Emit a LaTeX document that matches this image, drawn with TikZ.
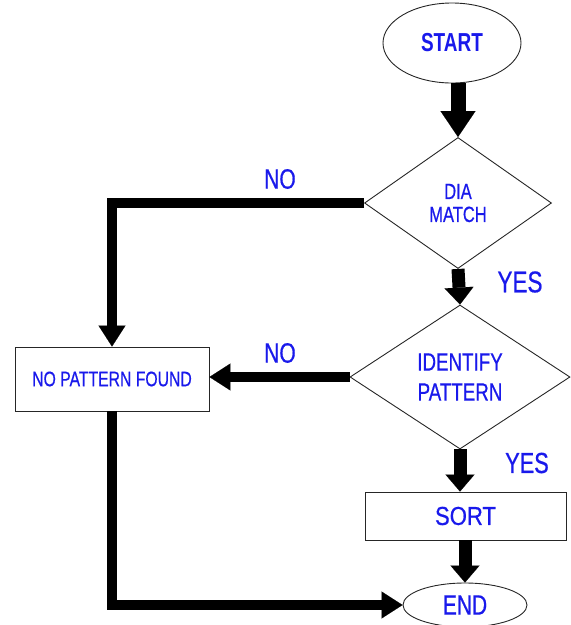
\documentclass[tikz,border=0pt]{standalone}
\usepackage{fontspec}
\newfontfamily\cf[FakeStretch=0.75,FakeBold=0.6]{Liberation Sans}
\newfontfamily\cfw[FakeStretch=0.85,FakeBold=0.6]{Liberation Sans}
\newfontfamily\cfb[FakeStretch=0.73]{Liberation Sans Bold}
\usetikzlibrary{shapes.geometric,arrows.meta}
\definecolor{txt}{RGB}{25,25,235}
\tikzset{
  shapeline/.style={draw=black!85, line width=0.9pt, inner sep=0pt, text=txt},
  bigarrow/.style={line width=15pt, -{Triangle[width=35pt,length=26pt,line width=0.1pt]}},
  midarrow/.style={line width=13pt, -{Triangle[width=29pt,length=17pt,line width=0.1pt]}},
  connarrow/.style={line width=10pt, line join=miter, -{Triangle[width=27pt,length=21pt,line width=0.1pt]}},
  lbl/.style={text=txt, inner sep=0pt}
}
\begin{document}
\begin{tikzpicture}[x=1pt,y=-1pt]
\useasboundingbox (0,0) rectangle (571,625);
\node[shapeline, ellipse, minimum width=138pt, minimum height=80pt, font=\fontsize{26}{30}\selectfont\cfb] (start) at (452,43) {START};
\node[shapeline, diamond, minimum width=187pt, minimum height=131pt, align=center, font=\fontsize{22}{23}\selectfont\cf] (d1) at (458,203) {DIA\\MATCH};
\node[shapeline, diamond, minimum width=220pt, minimum height=144pt, align=center, font=\fontsize{25}{30}\selectfont\cf] (d2) at (460,377) {IDENTIFY\\PATTERN};
\node[shapeline, rectangle, minimum width=201pt, minimum height=48pt, font=\fontsize{26}{30}\selectfont\cfw] (sort) at (465.5,516) {SORT};
\node[shapeline, ellipse, minimum width=124pt, minimum height=44pt, font=\fontsize{28}{30}\selectfont\cf] (end) at (465,605) {END};
\node[shapeline, rectangle, minimum width=194pt, minimum height=64pt, font=\fontsize{21}{25}\selectfont\cf] (npf) at (112,379) {NO PATTERN FOUND};

\node[lbl, font=\fontsize{28}{30}\selectfont\cf] (no1) at (280,179) {NO};
\node[lbl, font=\fontsize{28}{30}\selectfont\cf] (no2) at (280,353) {NO};
\node[lbl, font=\fontsize{30}{30}\selectfont\cf] (yes1) at (520,282) {YES};
\node[lbl, font=\fontsize{29}{30}\selectfont\cf] (yes2) at (527,463) {YES};

\draw[bigarrow] (d1.north |- start.south) -- (d1.north);
\draw[midarrow] (d1.south) -- (d2.north);
\draw[midarrow] (d2.south) -- (d2.south |- sort.north);
\draw[midarrow] (sort.south -| end.north) -- (end.north);
\draw[connarrow] (d1.west) -| (npf.north);
\draw[connarrow] (d2.west) -- (d2.west -| npf.east);
\draw[connarrow] (npf.south) |- (end.west);
\end{tikzpicture}
\end{document}
